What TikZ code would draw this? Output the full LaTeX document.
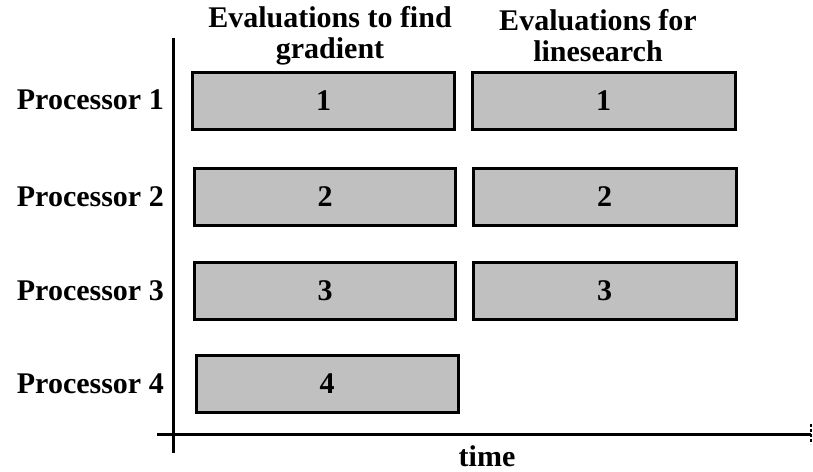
\documentclass[tikz,border=0pt]{standalone}
\usepackage{fontspec}
\setmainfont{Liberation Serif}
\begin{document}
\begin{tikzpicture}[x=1pt,y=-1pt,
  bar/.style={draw=black,line width=3pt,fill={rgb,255:red,192;green,192;blue,192},inner sep=0pt},
  lbl/.style={font=\fontsize{30}{31}\selectfont\bfseries,inner sep=0pt},
  axis/.style={line width=3pt,black}]
\useasboundingbox (0,0) rectangle (813,471);
% axes
\coordinate (vt) at (173,38);
\coordinate (vb) at (173,453);
\coordinate (hl) at (157,434);
\coordinate (hr) at (811,434);
\coordinate (tt) at (811,424);
\coordinate (tb) at (811,444);
\draw[axis] (vt) -- (vb);
\draw[axis] (hl) -- (hr);
\draw[line width=2pt,dash pattern=on 3pt off 2pt] (tt) -- (tb);
% bars
\node[bar,minimum width=262pt,minimum height=57pt] (g1) at (323.5,100.5) {};
\node[bar,minimum width=263pt,minimum height=57pt] (l1) at (603.5,100.5) {};
\node[bar,minimum width=261pt,minimum height=57pt] (g2) at (325,197) {};
\node[bar,minimum width=263pt,minimum height=57pt] (l2) at (604.5,197) {};
\node[bar,minimum width=261pt,minimum height=57pt] (g3) at (325,290.5) {};
\node[bar,minimum width=263pt,minimum height=57pt] (l3) at (604.5,290.5) {};
\node[bar,minimum width=262pt,minimum height=57pt] (g4) at (327,384) {};
\node[lbl] (n1) at (g1) {1};
\node[lbl] (m1) at (l1) {1};
\node[lbl] (n2) at (g2) {2};
\node[lbl] (m2) at (l2) {2};
\node[lbl] (n3) at (g3) {3};
\node[lbl] (m3) at (l3) {3};
\node[lbl] (n4) at (g4) {4};
% processor labels
\node[lbl,anchor=east] (p1) at (164,100) {Processor 1};
\node[lbl,anchor=east] (p2) at (164,197) {Processor 2};
\node[lbl,anchor=east] (p3) at (164,291) {Processor 3};
\node[lbl,anchor=east] (p4) at (164,384) {Processor 4};
% titles
\node[lbl,align=center] (t1) at (330,36) {Evaluations to find\\gradient};
\node[lbl,align=center] (t2) at (598,36) {Evaluations for\\linesearch};
\node[lbl] (time) at (487,456) {time};
\end{tikzpicture}
\end{document}
